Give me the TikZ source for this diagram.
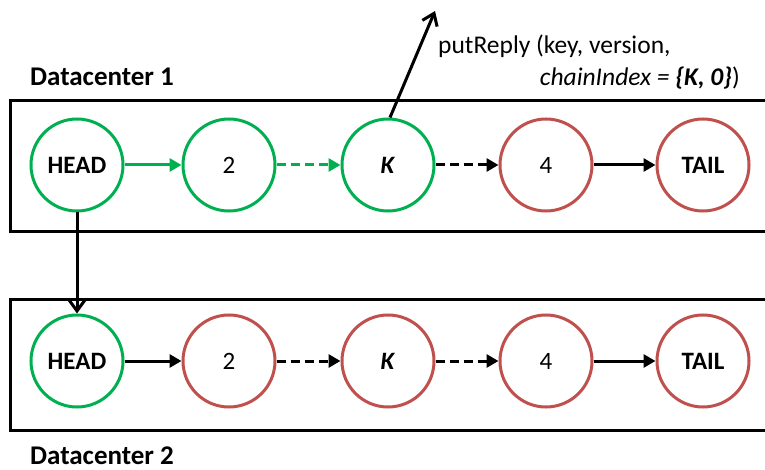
\documentclass[tikz,border=0pt]{standalone}
\usepackage{fontspec}
\setmainfont{Carlito}
\usetikzlibrary{arrows.meta}
\definecolor{dcgreen}{HTML}{00B050}
\definecolor{dcred}{HTML}{C0504D}
\tikzset{
  chainnode/.style={circle, minimum size=92pt, inner sep=0pt, line width=3pt, fill=white, font=\fontsize{25}{30}\selectfont},
  gnode/.style={chainnode, draw=dcgreen},
  rnode/.style={chainnode, draw=dcred},
  dcbox/.style={draw=black, line width=3pt},
  link/.style={line width=3pt, -{Triangle[length=12pt,width=13pt]}},
  dlink/.style={link, dash pattern=on 9pt off 5pt},
  openarrow/.style={line width=3pt, -{Straight Barb[length=11pt,width=16pt,line width=3pt]}},
  lbl/.style={inner sep=0pt},
}
\begin{document}
\begin{tikzpicture}[x=1pt, y=-1pt]
\useasboundingbox (0,0) rectangle (765,470);
\fill[white] (0,0) rectangle (765,470);
% boxes
\draw[dcbox] (10,101) rectangle (790,232);
\draw[dcbox] (10,299) rectangle (790,430);
% row 1
\node[gnode] (h1) at (77,165) {\textbf{HEAD}};
\node[gnode] (a1) at (229,165) {2};
\node[gnode] (k1) at (388,165) {\textbf{\textit{K}}};
\node[rnode] (b1) at (546,165) {4};
\node[rnode] (t1) at (703,165) {\textbf{TAIL}};
% row 2
\node[gnode] (h2) at (77,361) {\textbf{HEAD}};
\node[rnode] (a2) at (229,361) {2};
\node[rnode] (k2) at (388,361) {\textbf{\textit{K}}};
\node[rnode] (b2) at (546,361) {4};
\node[rnode] (t2) at (703,361) {\textbf{TAIL}};
% links row 1
\draw[link, dcgreen] (h1) -- (a1);
\draw[dlink, dcgreen] (a1) -- (k1);
\draw[dlink] (k1) -- (b1);
\draw[link] (b1) -- (t1);
% links row 2
\draw[link] (h2) -- (a2);
\draw[dlink] (a2) -- (k2);
\draw[dlink] (k2) -- (b2);
\draw[link] (b2) -- (t2);
% inter-datacenter
\draw[openarrow] (h1) -- (h2);
% reply
\coordinate (reply) at (435,11);
\coordinate (kt) at ([xshift=2pt]k1.north);
\draw[openarrow] (kt) -- (reply);
% labels
\node[lbl, anchor=base west, font=\fontsize{27}{32}\selectfont] (dc1) at (30,86) {\textbf{Datacenter 1}};
\node[lbl, anchor=base west, font=\fontsize{27}{32}\selectfont] (dc2) at (30,464) {\textbf{Datacenter 2}};
\node[lbl, anchor=base west, font=\fontsize{25.5}{30}\selectfont] (pr1) at (438,54) {putReply (key, version,};
\node[lbl, anchor=base east, font=\fontsize{25.5}{30}\selectfont] (pr2) at (740,86) {\textit{chainIndex =} \textbf{\textit{\{K, 0\}}})};
\end{tikzpicture}
\end{document}
